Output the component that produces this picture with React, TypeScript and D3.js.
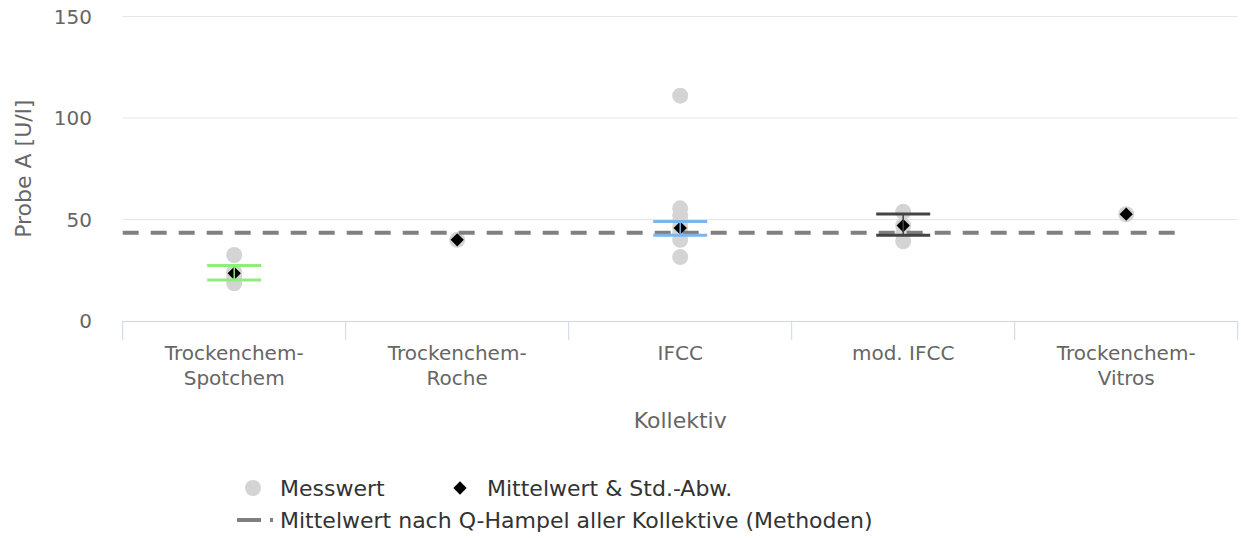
import { useEffect, useRef } from 'react';
import * as d3 from 'd3';

// Kollektive (x-axis categories, split into label lines)
const categories = ['Trockenchem-|Spotchem', 'Trockenchem-|Roche', 'IFCC', 'mod. IFCC', 'Trockenchem-|Vitros'];

// single measured values per Kollektiv
const messwerte = [
  [32.5, 24, 22, 18.6],
  [40],
  [111, 55.5, 52, 49, 46, 43, 40, 31.5],
  [53.8, 47, 43, 39.3],
  [52.6],
];

// mean and +/- std per Kollektiv (null = no error bar)
const mittelwerte = [23.5, 40, 45.8, 47, 52.6];
const stdLow = [20.2, null, 42.3, 42.2, null];
const stdHigh = [27.3, null, 49, 52.7, null];

// Q-Hampel mean over all Kollektive, drawn across x = -0.5 .. 4.25
const hampelValue = 43.5;
const hampelRange = [-0.5, 4.25];

const yTicks = [0, 50, 100, 150];

const ERR_COLORS = ['#90ed7d', null, '#7cb5ec', '#434348', null];

const W = 1241;
const H = 538;
const FONT = 'DejaVu Sans, sans-serif';

export default function App() {
  const svgRef = useRef<SVGSVGElement>(null);

  useEffect(() => {
    if (!svgRef.current) return;
    const svg = d3.select(svgRef.current);
    svg.selectAll('*').remove();

    const left = 122.7;
    const right = 1237.7;
    const top = 16.5;
    const bottom = 321;

    const x = d3.scaleLinear().domain([-0.5, categories.length - 0.5]).range([left, right]);
    const y = d3.scaleLinear().domain([0, 150]).range([bottom, top]);

    // grid
    svg.append('g')
      .selectAll('line')
      .data(yTicks.filter(t => t > 0))
      .enter()
      .append('line')
      .attr('x1', left).attr('x2', right)
      .attr('y1', d => y(d)).attr('y2', d => y(d))
      .attr('stroke', '#e6e6e6').attr('stroke-width', 1);

    // y labels
    svg.append('g')
      .selectAll('text')
      .data(yTicks)
      .enter()
      .append('text')
      .attr('x', 92)
      .attr('y', d => y(d))
      .attr('dy', '0.36em')
      .attr('text-anchor', 'end')
      .attr('font-family', FONT)
      .attr('font-size', '20px')
      .attr('fill', '#666666')
      .text(d => d);

    // x axis line + ticks at category boundaries
    svg.append('line')
      .attr('x1', left).attr('x2', right)
      .attr('y1', bottom + 0.5).attr('y2', bottom + 0.5)
      .attr('stroke', '#ccd6eb').attr('stroke-width', 1);

    svg.append('g')
      .selectAll('line')
      .data(d3.range(categories.length + 1))
      .enter()
      .append('line')
      .attr('x1', i => x(i - 0.5)).attr('x2', i => x(i - 0.5))
      .attr('y1', bottom).attr('y2', bottom + 19)
      .attr('stroke', '#ccd6eb').attr('stroke-width', 1);

    // category labels
    const lab = svg.append('g')
      .selectAll('text')
      .data(categories)
      .enter()
      .append('text')
      .attr('text-anchor', 'middle')
      .attr('font-family', FONT)
      .attr('font-size', '20px')
      .attr('fill', '#666666');
    lab.each(function (d, i) {
      const t = d3.select(this);
      d.split('|').forEach((line, j) => {
        t.append('tspan').attr('x', x(i)).attr('y', 360 + j * 25).text(line);
      });
    });

    // axis titles
    svg.append('text')
      .attr('x', (left + right) / 2)
      .attr('y', 428)
      .attr('text-anchor', 'middle')
      .attr('font-family', FONT)
      .attr('font-size', '22px')
      .attr('fill', '#666666')
      .text('Kollektiv');

    svg.append('text')
      .attr('transform', `translate(31,${(top + bottom) / 2}) rotate(-90)`)
      .attr('text-anchor', 'middle')
      .attr('font-family', FONT)
      .attr('font-size', '22px')
      .attr('fill', '#666666')
      .text('Probe A [U/l]');

    // Messwerte
    const pts = messwerte.flatMap((vals, i) => vals.map(v => ({ i, v })));
    svg.append('g')
      .selectAll('circle')
      .data(pts)
      .enter()
      .append('circle')
      .attr('cx', d => x(d.i))
      .attr('cy', d => y(d.v))
      .attr('r', 8)
      .attr('fill', '#d4d4d4');

    // Q-Hampel line
    svg.append('line')
      .attr('x1', x(hampelRange[0])).attr('x2', x(hampelRange[1]))
      .attr('y1', y(hampelValue)).attr('y2', y(hampelValue))
      .attr('stroke', '#808080')
      .attr('stroke-width', 4)
      .attr('stroke-dasharray', '16,12');

    // means
    const diamond = d3.symbol().type(d3.symbolDiamond2).size(112);
    svg.append('g')
      .selectAll('path')
      .data(mittelwerte)
      .enter()
      .append('path')
      .attr('transform', (d, i) => `translate(${x(i)},${y(d)})`)
      .attr('d', diamond() as string)
      .attr('fill', '#000000');

    // error bars
    const errs = mittelwerte
      .map((m, i) => ({ i, lo: stdLow[i], hi: stdHigh[i], c: ERR_COLORS[i] }))
      .filter(e => e.lo != null && e.hi != null);
    const eg = svg.append('g');
    errs.forEach(e => {
      const cx = x(e.i);
      eg.append('line')
        .attr('x1', cx).attr('x2', cx)
        .attr('y1', y(e.lo as number)).attr('y2', y(e.hi as number))
        .attr('stroke', e.c as string).attr('stroke-width', 1.5);
      [e.lo, e.hi].forEach(v => {
        eg.append('line')
          .attr('x1', cx - 27).attr('x2', cx + 27)
          .attr('y1', y(v as number)).attr('y2', y(v as number))
          .attr('stroke', e.c as string).attr('stroke-width', 3);
      });
    });

    // legend
    const lg = svg.append('g')
      .attr('font-family', FONT)
      .attr('font-size', '22px')
      .attr('fill', '#333333');
    lg.append('circle').attr('cx', 253).attr('cy', 488).attr('r', 8).attr('fill', '#d4d4d4');
    lg.append('text').attr('x', 280).attr('y', 488).attr('dy', '0.36em').text('Messwert');
    lg.append('path')
      .attr('transform', 'translate(460,488)')
      .attr('d', diamond() as string)
      .attr('fill', '#000000');
    lg.append('text').attr('x', 487).attr('y', 488).attr('dy', '0.36em').text('Mittelwert & Std.-Abw.');
    lg.append('line')
      .attr('x1', 237).attr('x2', 273)
      .attr('y1', 520).attr('y2', 520)
      .attr('stroke', '#808080').attr('stroke-width', 4)
      .attr('stroke-dasharray', '24,9');
    lg.append('text').attr('x', 280).attr('y', 520).attr('dy', '0.36em')
      .text('Mittelwert nach Q-Hampel aller Kollektive (Methoden)');
  }, []);

  return (
    <div style={{ position: 'absolute', left: 0, top: 0 }}>
      <svg ref={svgRef} width={W} height={H} style={{ display: 'block', background: '#ffffff' }} />
    </div>
  );
}
